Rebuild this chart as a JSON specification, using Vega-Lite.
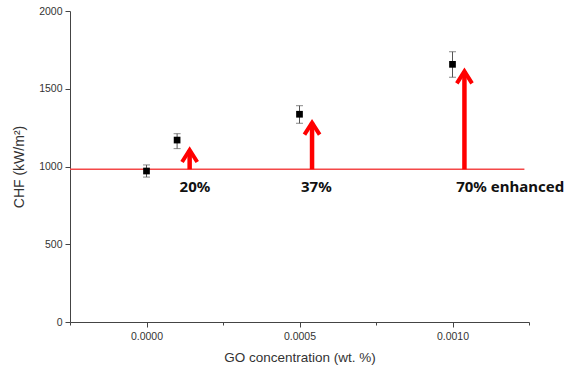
{
  "$schema": "https://vega.github.io/schema/vega-lite/v6.json",
  "autosize": "none",
  "width": 459,
  "height": 311,
  "padding": {"left": 70, "top": 11, "right": 37, "bottom": 47},
  "background": "white",
  "config": {
    "view": {"stroke": null},
    "axis": {
      "labelFont": "Liberation Sans",
      "titleFont": "Liberation Sans",
      "labelFontSize": 10.5,
      "titleFontSize": 13.5,
      "titleFontWeight": "normal",
      "labelColor": "#333",
      "titleColor": "#333",
      "domainColor": "#444",
      "tickColor": "#444",
      "grid": false
    }
  },
  "datasets": {
    "pts": [
      {"c": 0, "chf": 971, "lo": 932, "hi": 1010},
      {"c": 0.0001, "chf": 1170, "lo": 1115, "hi": 1211},
      {"c": 0.0005, "chf": 1336, "lo": 1278, "hi": 1391},
      {"c": 0.001, "chf": 1657, "lo": 1574, "hi": 1738}
    ],
    "base": [
      {"c": -0.00025, "chf": 982},
      {"c": 0.001235, "chf": 982}
    ],
    "arrows": [
      {"c": 0.000141, "from": 982, "to": 1106},
      {"c": 0.000541, "from": 982, "to": 1282},
      {"c": 0.001039, "from": 982, "to": 1612}
    ],
    "labels": [
      {"c": 0.000108, "chf": 870, "text": "20%"},
      {"c": 0.000505, "chf": 870, "text": "37%"},
      {"c": 0.001012, "chf": 870, "text": "70% enhanced"}
    ]
  },
  "layer": [
    {
      "data": {"name": "base"},
      "mark": {"type": "line", "color": "#f44848", "strokeWidth": 1.5},
      "encoding": {
        "x": {
          "field": "c", "type": "quantitative",
          "scale": {"domain": [-0.00025, 0.00125], "nice": false, "zero": false},
          "axis": {
            "title": "GO concentration (wt. %)",
            "values": [-0.00025, 0, 0.00025, 0.0005, 0.00075, 0.001, 0.00125],
            "labelExpr": "abs(datum.value*2000 - round(datum.value*2000)) < 0.01 ? format(datum.value, '.4f') : ''",
            "tickSize": {"condition": {"test": "abs(datum.value*2000 - round(datum.value*2000)) < 0.01", "value": 5}, "value": 3},
            "labelPadding": 4,
            "titlePadding": 9
          }
        },
        "y": {
          "field": "chf", "type": "quantitative",
          "scale": {"domain": [0, 2000], "nice": false},
          "axis": {
            "title": "CHF (kW/m²)",
            "titleFontSize": 14,
            "values": [0, 250, 500, 750, 1000, 1250, 1500, 1750, 2000],
            "labelExpr": "datum.value % 500 === 0 ? datum.value : ''",
            "tickSize": {"condition": {"test": "datum.value % 500 === 0", "value": 5}, "value": 3},
            "labelPadding": 3,
            "titlePadding": 12
          }
        }
      }
    },
    {
      "data": {"name": "pts"},
      "mark": {"type": "rule", "color": "#555", "strokeWidth": 1},
      "encoding": {
        "x": {"field": "c", "type": "quantitative"},
        "y": {"field": "lo", "type": "quantitative"},
        "y2": {"field": "hi"}
      }
    },
    {
      "data": {"name": "pts"},
      "mark": {"type": "tick", "orient": "horizontal", "color": "#555", "size": 7, "thickness": 1},
      "encoding": {
        "x": {"field": "c", "type": "quantitative"},
        "y": {"field": "lo", "type": "quantitative"}
      }
    },
    {
      "data": {"name": "pts"},
      "mark": {"type": "tick", "orient": "horizontal", "color": "#555", "size": 7, "thickness": 1},
      "encoding": {
        "x": {"field": "c", "type": "quantitative"},
        "y": {"field": "hi", "type": "quantitative"}
      }
    },
    {
      "data": {"name": "pts"},
      "mark": {"type": "point", "shape": "square", "filled": true, "color": "black", "size": 45, "opacity": 1},
      "encoding": {
        "x": {"field": "c", "type": "quantitative"},
        "y": {"field": "chf", "type": "quantitative"}
      }
    },
    {
      "data": {"name": "arrows"},
      "mark": {"type": "rule", "color": "#ff0000", "strokeWidth": 4.5},
      "encoding": {
        "x": {"field": "c", "type": "quantitative"},
        "y": {"field": "from", "type": "quantitative"},
        "y2": {"field": "to"}
      }
    },
    {
      "data": {"name": "arrows"},
      "mark": {"type": "point", "shape": "M-0.95,1.5L0,0L0.95,1.5", "filled": false, "stroke": "#ff0000", "strokeWidth": 4, "size": 256, "opacity": 1, "strokeJoin": "miter", "strokeCap": "butt"},
      "encoding": {
        "x": {"field": "c", "type": "quantitative"},
        "y": {"field": "to", "type": "quantitative"}
      }
    },
    {
      "data": {"name": "labels"},
      "mark": {"type": "text", "align": "left", "baseline": "middle", "font": "Noto Sans", "fontWeight": "bold", "fontSize": 15, "color": "#111"},
      "encoding": {
        "x": {"field": "c", "type": "quantitative"},
        "y": {"field": "chf", "type": "quantitative"},
        "text": {"field": "text"}
      }
    }
  ]
}
